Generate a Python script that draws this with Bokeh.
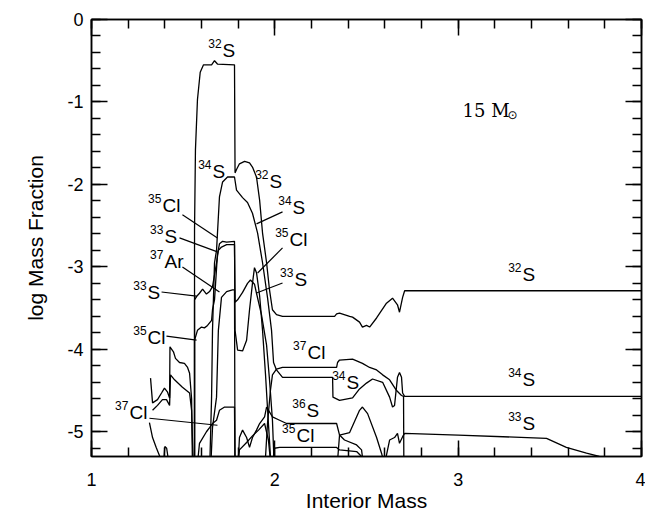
import numpy as np
from bokeh.plotting import figure
from bokeh.models import Range1d, LinearAxis, SingleIntervalTicker, ColumnDataSource, CustomJSTickFormatter
from bokeh.core.properties import value
from bokeh.embed import file_html
from bokeh.resources import INLINE

nan = np.nan

# ---- data: interior mass (Msun) vs log mass fraction; nan separates pieces ----
s32_x = [1.562, 1.562, 1.567, 1.578, 1.593, 1.611, 1.655, 1.671, 1.687, 1.780, 1.783, 1.791, 1.807, 1.835,
         1.862, 1.878, 1.900, 1.917, 1.933, 1.955, 1.971, 1.987, 2.009, 2.042, 2.326, 2.337, 2.353, 2.408,
         2.424, 2.462, 2.478, 2.500, 2.517, 2.555, 2.609, 2.642, 2.669, 2.680, 2.697, 2.708, 4.0]
s32_y = [-5.5, -2.55, -1.58, -0.97, -0.64, -0.55, -0.55, -0.50, -0.54, -0.55, -1.86, -1.82, -1.75, -1.72,
         -1.74, -1.79, -1.91, -2.19, -2.59, -2.95, -3.28, -3.52, -3.58, -3.60, -3.60, -3.57, -3.56, -3.60,
         -3.61, -3.67, -3.73, -3.71, -3.73, -3.62, -3.44, -3.38, -3.46, -3.55, -3.37, -3.29, -3.29]

s34_x = [1.644, 1.655, 1.660, 1.671, 1.682, 1.698, 1.715, 1.742, 1.780, 1.791, 1.824, 1.851, 1.878, 1.906,
         1.933, 1.960, 1.982, 1.993, 2.009, 2.042, 2.315, 2.317, 2.353, 2.424, 2.462, 2.500, 2.533, 2.588,
         2.626, 2.642, 2.653, 2.669, 2.680, 2.691, 2.697, 2.708, 4.0]
s34_y = [-5.5, -4.58, -3.77, -2.95, -2.80, -2.15, -1.97, -1.91, -1.91, -2.07, -2.16, -2.22, -2.35, -2.59,
         -2.95, -3.37, -3.77, -4.16, -4.25, -4.34, -4.34, -4.58, -4.62, -4.59, -4.48, -4.41, -4.36, -4.40,
         -4.58, -4.70, -4.68, -4.34, -4.28, -4.34, -4.53, -4.57, -4.57]

s33_x = [1.333, 1.360, 1.387, 1.409, 1.426, 1.431, 1.453, 1.496, 1.535, 1.546, 1.556, nan,
         1.562, 1.562, 1.573, 1.589, 1.606, 1.627, 1.644, 1.660, 1.671, 1.682, 1.692, 1.709, 1.737, 1.780,
         1.783, 1.797, 1.824, 1.851, 1.867, 1.889, 1.900, 1.927, 1.955, 1.971, 1.987, 1.998, nan,
         2.337, 2.353, 2.408, 2.462, 2.478, 2.506, 2.555, 2.582, 2.598, 2.626, 2.653, 2.669, 2.680, 2.697,
         2.708, 3.0, 3.482, 3.59, 3.70, 3.77, 3.85, 4.0]
s33_y = [-4.74, -4.68, -4.61, -4.61, -4.68, -4.31, -4.37, -4.46, -4.53, -4.74, -5.5, nan,
         -5.5, -3.40, -3.36, -3.32, -3.27, -3.33, -3.30, -3.24, -3.10, -2.95, -2.80, -2.76, -2.73, -2.73,
         -3.43, -3.40, -3.31, -3.20, -3.16, -3.21, -3.32, -3.58, -3.95, -4.37, -4.86, -5.5, nan,
         -5.5, -5.04, -5.01, -4.74, -4.70, -4.78, -5.07, -5.26, -5.4, -5.10, -5.07, -5.02, -5.14, -5.06,
         -5.02, -5.04, -5.08, -5.19, -5.26, -5.30, -5.32, -5.35]

cl35_x = [1.322, 1.333, 1.360, 1.382, 1.398, 1.415, 1.426, 1.428, 1.447, 1.458, 1.480, 1.507, 1.524, 1.535,
          1.546, 1.551, nan,
          1.562, 1.562, 1.578, 1.600, 1.616, 1.633, 1.655, 1.660, 1.671, 1.687, 1.698, 1.715, 1.737, 1.780,
          1.783, 1.797, 1.824, 1.846, 1.862, 1.878, 1.889, 1.900, 1.917, 1.933, 1.949, 1.965, 1.982, nan,
          1.982, 1.998, 2.026, 2.206, 2.337, 2.353, 2.446, 2.473, 2.49]
cl35_y = [-4.35, -4.65, -4.61, -4.53, -4.47, -4.52, -4.59, -3.97, -4.03, -4.11, -4.16, -4.17, -4.22, -4.29,
          -4.60, -5.5, nan,
          -5.5, -3.89, -3.77, -3.73, -3.74, -3.71, -3.65, -3.52, -3.40, -2.85, -2.72, -2.69, -2.70, -2.69,
          -3.77, -4.01, -4.02, -3.89, -3.52, -3.20, -3.01, -3.07, -3.35, -3.77, -4.30, -4.90, -5.5, nan,
          -5.5, -5.20, -5.19, -5.19, -5.19, -5.22, -5.24, -5.30, -5.5]

cl37_x = [1.316, 1.333, 1.353, 1.371, 1.38, nan,
          1.573, 1.589, 1.627, 1.644, 1.660, 1.682, 1.698, 1.726, 1.780, 1.783, nan,
          1.944, 1.960, 1.976, 1.987, 2.009, 2.042, 2.337, 2.342, 2.353, 2.424, 2.478, 2.517, 2.555, 2.588,
          2.626, 2.664, 2.691, 2.702, 2.704]
cl37_y = [-4.89, -5.07, -5.19, -5.29, -5.5, nan,
          -5.5, -5.14, -5.00, -4.95, -4.90, -4.86, -4.74, -4.70, -4.70, -5.5, nan,
          -5.5, -4.90, -4.50, -4.31, -4.24, -4.22, -4.22, -4.16, -4.13, -4.12, -4.17, -4.22, -4.25, -4.31,
          -4.37, -4.50, -4.56, -4.57, -5.5]

s36_x = [1.39, 1.40, 1.41, 1.43, nan,
         1.797, 1.807, 1.824, 1.846, 1.862, 1.878, 1.900, 1.917, 1.944, 1.955, 1.987, 2.026, 2.064, 2.337,
         2.353, 2.380, 2.446, 2.473, 2.489]
s36_y = [-5.5, -5.18, -5.20, -5.5, nan,
         -5.5, -5.07, -4.98, -5.07, -5.19, -5.07, -4.98, -4.90, -4.82, -4.70, -4.82, -4.86, -4.90, -4.90,
         -5.04, -5.10, -5.16, -5.22, -5.5]

ar37_x = [1.649, 1.660, 1.682, 1.692, 1.709, 1.737, 1.769, 1.780, 1.783, nan,
          1.791, 1.807, 1.846, 1.878, 1.911, 1.944, 1.965, 1.976, 1.990]
ar37_y = [-5.5, -4.95, -4.58, -3.77, -3.37, -3.30, -3.28, -3.28, -5.5, nan,
          -5.5, -5.22, -5.13, -5.05, -4.98, -4.90, -5.10, -5.35, -5.5]

# ---- curve labels (mass number, element) and leader lines ----
lab_mass = ["32", "34", "32", "34", "35", "33", "35", "37", "33", "33", "35", "37", "34", "36", "35",
            "37", "32", "34", "33"]
lab_sym = ["S", "S", "S", "S", "Cl", "S", "Cl", "Ar", "S", "S", "Cl", "Cl", "S", "S", "Cl",
           "Cl", "S", "S", "S"]
lab_x = [1.715, 1.660, 1.971, 2.097, 1.387, 1.398, 2.080, 1.398, 2.107, 1.306, 1.306, 2.178, 2.391, 2.173,
         2.118, 1.207, 3.351, 3.351, 3.351]
lab_y = [-0.377, -1.847, -1.968, -2.284, -2.260, -2.637, -2.673, -2.940, -3.159, -3.305, -3.852, -4.034,
         -4.399, -4.739, -5.043, -4.763, -3.098, -4.362, -4.897]

ld_x0 = [2.042, 1.496, 1.480, 2.042, 1.496, 2.042, 1.382, 1.409, 1.316]
ld_y0 = [-2.333, -2.369, -2.649, -2.770, -3.001, -3.196, -3.305, -3.840, -4.836]
ld_x1 = [1.900, 1.687, 1.687, 1.906, 1.698, 1.900, 1.573, 1.573, 1.687]
ld_y1 = [-2.479, -2.649, -2.819, -3.074, -3.305, -3.317, -3.354, -3.888, -4.921]

FONT = "Liberation Sans"

p = figure(width=645, height=516, x_range=Range1d(1, 4), y_range=Range1d(-5.3, 0),
           output_backend="svg", toolbar_location=None,
           min_border_left=91, min_border_right=4, min_border_top=19, min_border_bottom=60)
p.xgrid.visible = False
p.ygrid.visible = False
p.outline_line_color = "black"
p.outline_line_width = 1.5
p.background_fill_color = "white"
p.border_fill_color = "white"

p.xaxis.ticker = SingleIntervalTicker(interval=1, num_minor_ticks=5)
p.yaxis.ticker = SingleIntervalTicker(interval=1, num_minor_ticks=5)
p.yaxis.major_label_overrides = {0: "0", -1: "-1", -2: "-2", -3: "-3", -4: "-4", -5: "-5"}
p.xaxis.axis_label = "Interior Mass"
p.yaxis.axis_label = "log Mass Fraction"

for ax in [p.xaxis[0], p.yaxis[0]]:
    ax.major_tick_in = 16
    ax.major_tick_out = 0
    ax.minor_tick_in = 9
    ax.minor_tick_out = 0
    ax.major_tick_line_width = 1.5
    ax.minor_tick_line_width = 1.5
    ax.axis_line_width = 1.5
    ax.major_label_text_font = FONT
    ax.major_label_text_font_size = "18px"
    ax.major_label_text_color = "black"
    ax.axis_label_text_font = FONT
    ax.axis_label_text_font_size = "21px"
    ax.axis_label_text_font_style = "normal"
    ax.axis_label_text_color = "black"
p.xaxis.major_label_standoff = 16
p.xaxis.axis_label_standoff = 0
p.yaxis.major_label_standoff = 8
p.yaxis.axis_label_standoff = 17

for loc in ["above", "right"]:
    ax = LinearAxis(ticker=SingleIntervalTicker(interval=1, num_minor_ticks=5),
                    formatter=CustomJSTickFormatter(code="return ''"), major_label_standoff=0,
                    major_tick_in=16, major_tick_out=0, minor_tick_in=9, minor_tick_out=0,
                    major_tick_line_width=1.5, minor_tick_line_width=1.5, axis_line_width=1.5)
    p.add_layout(ax, loc)

for xs, ys in [(s32_x, s32_y), (s34_x, s34_y), (s33_x, s33_y), (cl35_x, cl35_y),
               (cl37_x, cl37_y), (s36_x, s36_y), (ar37_x, ar37_y)]:
    p.line(xs, ys, line_color="black", line_width=1.3)

p.segment(ld_x0, ld_y0, ld_x1, ld_y1, line_color="black", line_width=1.2)

src = ColumnDataSource(dict(x=lab_x, y=lab_y, sym=lab_sym, mass=lab_mass))
p.text(x="x", y="y", text="sym", source=src, text_align="left", text_baseline="middle",
       text_font=value(FONT), text_font_size="19px", text_color="black")
p.text(x="x", y="y", text="mass", source=src, text_align="right", text_baseline="middle",
       y_offset=-7, x_offset=-1, text_font=value(FONT), text_font_size="12px", text_color="black")

p.text(x=[3.024], y=[-1.10], text=["15 M"], text_align="left", text_baseline="middle",
       text_font=value("DejaVu Serif"), text_font_size="18px", text_color="black")
p.text(x=[3.024], y=[-1.10], text=["\u2299"], text_align="left", text_baseline="middle",
       x_offset=45, y_offset=5, text_font=value("DejaVu Sans"), text_font_size="12px", text_color="black")

open("out.html", "w").write(file_html(p, INLINE))
